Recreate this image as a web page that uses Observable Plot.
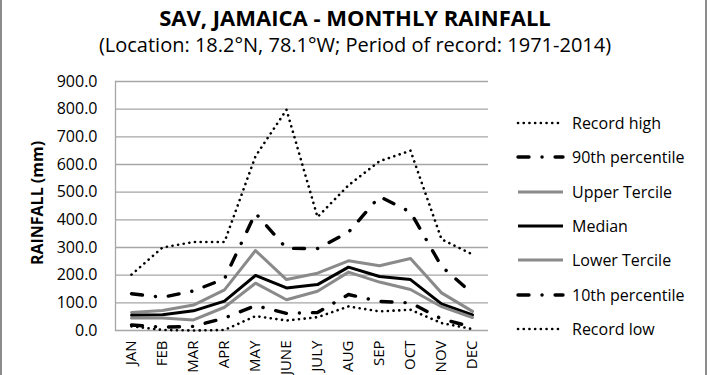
<!DOCTYPE html>
<html><head><meta charset="utf-8">
<script src="https://cdn.jsdelivr.net/npm/d3@7"></script>
<script src="https://cdn.jsdelivr.net/npm/@observablehq/plot@0.6"></script>
<style>
body{margin:0;background:#fff;}
#wrap{position:relative;width:710px;height:375px;overflow:hidden;font-family:"Open Sans",sans-serif;color:#000;background:#fff;}
#frame{position:absolute;left:0;top:0;width:703px;height:375px;border-left:2px solid #8c8c8c;border-right:2px solid #8c8c8c;box-sizing:content-box;}
#title{position:absolute;left:0;width:710px;top:2px;text-align:center;font-weight:bold;font-size:22px;line-height:30px;}
#subtitle{position:absolute;left:0;width:710px;top:31px;text-align:center;font-size:20px;line-height:28px;}
#chart{position:absolute;left:0;top:60px;}
#ylab{position:absolute;left:37px;top:203px;transform:translate(-50%,-50%) rotate(-90deg);font-weight:bold;font-size:16px;white-space:nowrap;}
.lg{position:absolute;left:515px;height:24px;display:flex;align-items:center;font-size:16px;white-space:nowrap;}
.lg svg{margin-right:7px;}
</style>
</head><body>
<div id="wrap">
  <div id="frame"></div>
  <div id="title">SAV, JAMAICA - MONTHLY RAINFALL</div>
  <div id="subtitle">(Location: 18.2°N, 78.1°W; Period of record: 1971-2014)</div>
  <div id="ylab">RAINFALL (mm)</div>
  <div id="chart"></div>
  <div id="legend"></div>
</div>
<script>
const months = ["JAN","FEB","MAR","APR","MAY","JUNE","JULY","AUG","SEP","OCT","NOV","DEC"];
const recordHigh   = [202, 300, 320, 320, 630, 798, 410, 525, 612, 650, 330, 275];
const pct90        = [133, 120, 143, 187, 424, 297, 296, 355, 484, 428, 232, 133];
const upperTercile = [65, 72, 92, 147, 289, 184, 207, 252, 234, 260, 136, 69];
const median       = [55, 57, 71, 106, 199, 154, 166, 229, 195, 184, 96, 56];
const lowerTercile = [45, 45, 38, 84, 171, 111, 142, 211, 175, 148, 86, 47];
const pct10        = [20, 12, 15, 45, 90, 62, 65, 130, 105, 100, 42, 12];
const recordLow    = [15, 2, 0, 2, 52, 36, 48, 87, 69, 75, 27, 5];
const yTicks = [0, 100, 200, 300, 400, 500, 600, 700, 800, 900];

const dotted = "0.1,5.6", dashDot = "11,13,0.1,13";
const series = [
  {name:"Record high", values:recordHigh, stroke:"#000", width:2.6, dash:dotted},
  {name:"90th percentile", values:pct90, stroke:"#000", width:3.4, dash:dashDot},
  {name:"Upper Tercile", values:upperTercile, stroke:"#8a8a8a", width:3, dash:null},
  {name:"Median", values:median, stroke:"#000", width:3, dash:null},
  {name:"Lower Tercile", values:lowerTercile, stroke:"#8a8a8a", width:3, dash:null},
  {name:"10th percentile", values:pct10, stroke:"#000", width:3.4, dash:dashDot},
  {name:"Record low", values:recordLow, stroke:"#000", width:2.6, dash:dotted}
];

const lineMarks = series.map(s => Plot.line(
  months.map((m, i) => ({month: m, value: s.values[i]})),
  {x: "month", y: "value", stroke: s.stroke, strokeWidth: s.width,
   strokeDasharray: s.dash || undefined, strokeLinecap: "round", strokeLinejoin: "round"}
));

const chart = Plot.plot({
  width: 710, height: 315,
  marginLeft: 115, marginRight: 222, marginTop: 21, marginBottom: 45,
  style: {fontFamily: "Open Sans", fontSize: "16px", color: "#000", background: "transparent"},
  x: {type: "point", domain: months, padding: 0.5},
  y: {domain: [0, 900]},
  marks: [
    Plot.gridY(yTicks, {stroke: "#a6a6a6", strokeOpacity: 1, strokeWidth: 1.3}),
    Plot.frame({anchor: "left", stroke: "#a6a6a6", strokeWidth: 1.3}),
    Plot.axisY(yTicks, {tickSize: 0, tickPadding: 18, tickFormat: d => d.toFixed(1), label: null, fontSize: 16}),
    Plot.axisX({tickSize: 0, tickPadding: 10, tickRotate: -90, label: null, fontSize: 15}),
    ...lineMarks
  ]
});
document.getElementById("chart").appendChild(chart);

const legend = document.getElementById("legend");
const rowY = [123, 157.3, 191.6, 226, 260.3, 294.6, 329];
series.forEach((s, i) => {
  const row = document.createElement("div");
  row.className = "lg";
  row.style.top = (rowY[i] - 12) + "px";
  const svg = d3.create("svg").attr("width", 50).attr("height", 12);
  svg.append("line").attr("x1", 3).attr("x2", 48).attr("y1", 6).attr("y2", 6)
    .attr("stroke", s.stroke).attr("stroke-width", s.width)
    .attr("stroke-dasharray", s.dash).attr("stroke-linecap", s.dash ? "round" : "butt");
  row.appendChild(svg.node());
  const t = document.createElement("span");
  t.textContent = s.name;
  row.appendChild(t);
  legend.appendChild(row);
});
</script>
</body></html>
